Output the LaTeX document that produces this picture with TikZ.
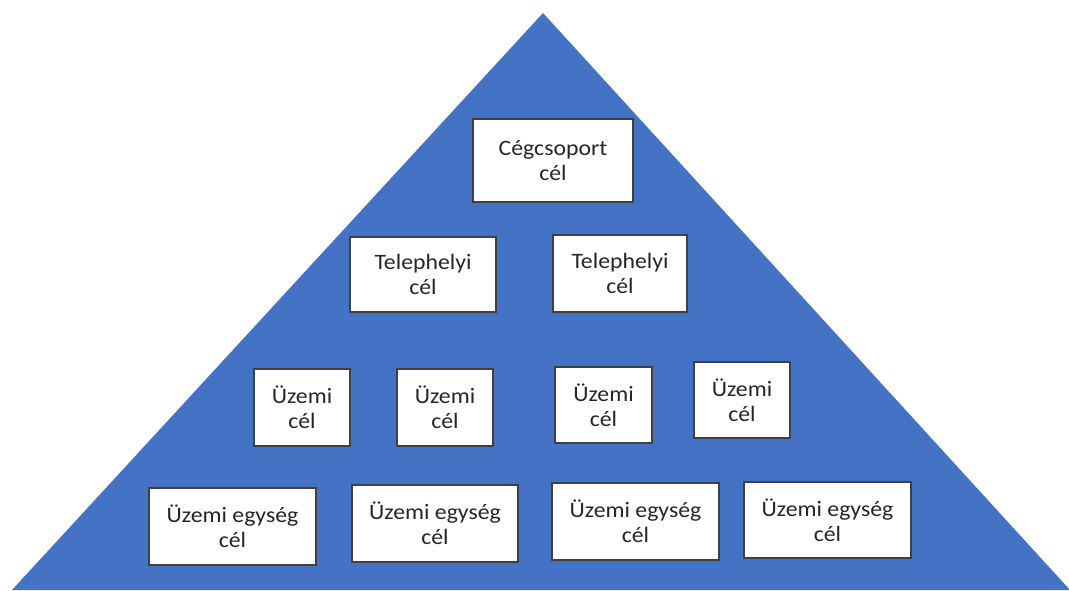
\documentclass[tikz,border=0pt]{standalone}
\usepackage{fontspec}
\setmainfont{Carlito}[FakeStretch=1.08]
\definecolor{pyrblue}{HTML}{4472C4}
\definecolor{txtgray}{HTML}{262626}
\tikzset{
  goalbox/.style={draw=black!75, line width=0.8pt, fill=white, align=center,
    text=txtgray, inner sep=0pt, font=\fontsize{16.5}{18.5}\selectfont},
}
\begin{document}
\begin{tikzpicture}[x=0.75pt,y=-0.75pt]
\useasboundingbox (0,0) rectangle (1069,590);
% pyramid
\fill[pyrblue] (543,13) -- (1070,590) -- (12,590) -- cycle;
% top level
\node[goalbox, minimum width=120pt, minimum height=62.25pt] (group) at (553,160.5) {Cégcsoport\\cél};
% sites
\node[goalbox, minimum width=109.5pt, minimum height=56.25pt] (site1) at (423,274.5) {Telephelyi\\cél};
\node[goalbox, minimum width=100.5pt, minimum height=57.75pt] (site2) at (620,273.5) {Telephelyi\\cél};
% plants
\node[goalbox, minimum width=72pt, minimum height=57.75pt] (plant1) at (302,407.5) {Üzemi\\cél};
\node[goalbox, minimum width=72pt, minimum height=57.75pt] (plant2) at (445,407.5) {Üzemi\\cél};
\node[goalbox, minimum width=72.75pt, minimum height=57pt] (plant3) at (603.5,405) {Üzemi\\cél};
\node[goalbox, minimum width=72pt, minimum height=57pt] (plant4) at (742,400) {Üzemi\\cél};
% plant units
\node[goalbox, minimum width=125.25pt, minimum height=57.75pt] (unit1) at (232.5,526.5) {Üzemi egység\\cél};
\node[goalbox, minimum width=124.5pt, minimum height=57.75pt] (unit2) at (435,523.5) {Üzemi egység\\cél};
\node[goalbox, minimum width=125.25pt, minimum height=57.75pt] (unit3) at (635.5,521.5) {Üzemi egység\\cél};
\node[goalbox, minimum width=125.25pt, minimum height=57pt] (unit4) at (827.5,520) {Üzemi egység\\cél};
\end{tikzpicture}
\end{document}
